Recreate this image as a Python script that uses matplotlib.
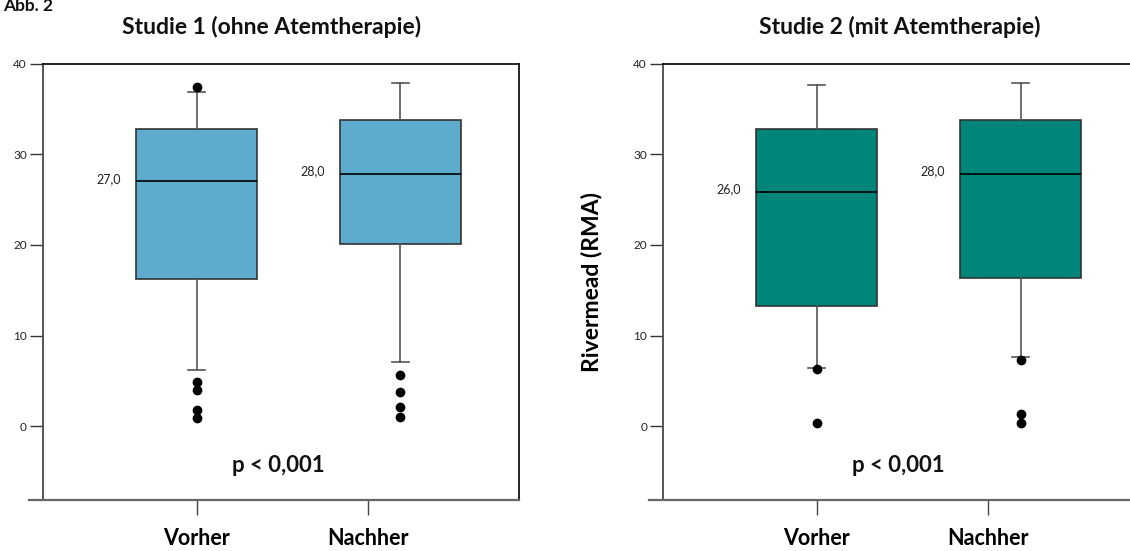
import matplotlib
matplotlib.use("Agg")
import matplotlib.pyplot as plt

plt.rcParams['font.family'] = ['Lato', 'DejaVu Sans']

# ---- data ----
categories = ["Vorher", "Nachher"]
titles = ["Studie 1 (ohne Atemtherapie)", "Studie 2 (mit Atemtherapie)"]
median_labels_1 = ["27,0", "28,0"]
median_labels_2 = ["26,0", "28,0"]

# Studie 1
s1_whislo = [6.2, 7.1]
s1_q1 = [16.3, 20.15]
s1_med = [27.0, 27.8]
s1_q3 = [32.8, 33.8]
s1_whishi = [36.9, 37.8]
s1_fliers = [[37.4, 4.9, 4.0, 1.85, 0.9], [5.7, 3.75, 2.1, 1.1]]

# Studie 2
s2_whislo = [6.5, 7.7]
s2_q1 = [13.3, 16.4]
s2_med = [25.85, 27.8]
s2_q3 = [32.8, 33.8]
s2_whishi = [37.6, 37.8]
s2_fliers = [[6.35, 0.37], [7.3, 1.4, 0.37]]

yticks = [0, 10, 20, 30, 40]
p_text = "p < 0,001"
ylabel = "Rivermead (RMA)"

# ---- layout ----
W, H = 1130, 551
fig = plt.figure(figsize=(W / 100, H / 100), dpi=100)

box_pos = [1, 2]
tick_pos = [1, 1.84]
xlim = (0.246, 2.581)
ylim = (-8.1, 40)
colors = ["#5dacce", "#00857a"]

ax_w = 476.3 / W
ax_b = 1 - 500 / H
ax_h = (500 - 63.5) / H
lefts = [42.7 / W, 663 / W]


def make_stats(whislo, q1, med, q3, whishi, fliers):
    out = []
    for i in range(len(med)):
        out.append(dict(whislo=whislo[i], q1=q1[i], med=med[i], q3=q3[i],
                        whishi=whishi[i], fliers=fliers[i], label=categories[i]))
    return out


stats = [make_stats(s1_whislo, s1_q1, s1_med, s1_q3, s1_whishi, s1_fliers),
         make_stats(s2_whislo, s2_q1, s2_med, s2_q3, s2_whishi, s2_fliers)]
med_labels = [median_labels_1, median_labels_2]
title_x = [272 / W, 900 / W]

for k in range(2):
    ax = fig.add_axes([lefts[k], ax_b, ax_w, ax_h])
    ax.bxp(stats[k], positions=box_pos, widths=0.593, capwidths=0.083,
           patch_artist=True, showfliers=True,
           boxprops=dict(facecolor=colors[k], edgecolor="#333333", linewidth=1.2),
           medianprops=dict(color="black", linewidth=1.2),
           whiskerprops=dict(color="#555555", linewidth=1.2),
           capprops=dict(color="#555555", linewidth=1.2),
           flierprops=dict(marker="o", markerfacecolor="black",
                           markeredgecolor="black", markersize=6))
    ax.set_xlim(*xlim)
    ax.set_ylim(*ylim)
    ax.set_yticks(yticks)
    ax.set_yticklabels([str(v) for v in yticks], fontsize=8.5, color="#222222")
    ax.tick_params(axis="y", direction="out", length=9.5, width=1.0,
                   color="#333333", pad=2)
    ax.set_xticks(tick_pos)
    ax.set_xticklabels(categories, fontsize=15.5, fontweight="bold")
    ax.tick_params(axis="x", direction="out", length=11, width=1.0,
                   color="#444444", pad=9.5)
    for side in ["top", "right"]:
        ax.spines[side].set_color("black")
        ax.spines[side].set_linewidth(1.2)
    ax.spines["left"].set_color("#555555")
    ax.spines["left"].set_linewidth(1.4)
    ax.spines["bottom"].set_color("#666666")
    ax.spines["bottom"].set_linewidth(1.6)
    ax.spines["bottom"].set_bounds(xlim[0] - 14 / 204, xlim[1])

    for i in range(2):
        ax.annotate(med_labels[k][i], xy=(box_pos[i] - 0.593 / 2, stats[k][i]["med"]),
                    xytext=(-11, 2), textcoords="offset points",
                    ha="right", va="center", fontsize=9, color="#222222")

    ax.text(1.4, -4.3, p_text, ha="center", va="center",
            fontsize=16, fontweight="bold", color="#111111")

    fig.text(title_x[k], 1 - 27 / H, titles[k], ha="center", va="center",
             fontsize=16.5, fontweight="bold", color="#111111")

    if k == 1:
        ax.set_ylabel(ylabel, fontsize=16.5, fontweight="bold", labelpad=22)

fig.text(0.003, 1 - 6 / H, "Abb. 2", ha="left", va="center",
         fontsize=12.5, fontweight="bold", color="#111111")

fig.savefig("out.png", dpi=100)
